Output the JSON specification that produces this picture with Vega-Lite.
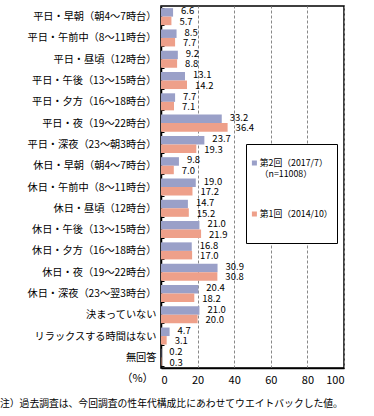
{
  "$schema": "https://vega.github.io/schema/vega-lite/v6.json",
  "autosize": "none",
  "width": 183,
  "height": 362,
  "padding": {"left": 161, "top": 6, "right": 30, "bottom": 48},
  "background": "white",
  "config": {
    "font": "Noto Sans CJK JP",
    "view": {"stroke": "black", "strokeWidth": 1.5},
    "axis": {"labelFont": "Noto Sans CJK JP", "titleFont": "Noto Sans CJK JP", "labelColor": "black", "titleColor": "black"}
  },
  "title": {
    "text": "注）過去調査は、今回調査の性年代構成比にあわせてウエイトバックした値。",
    "orient": "bottom",
    "anchor": "start",
    "align": "left",
    "frame": "group",
    "offset": 14,
    "dx": -161,
    "fontSize": 9.8,
    "fontWeight": "normal",
    "color": "black",
    "font": "Noto Sans CJK JP"
  },
  "data": {
    "values": [
      {"cat": "平日・早朝（朝4～7時台）", "series": "第2回（2017/7）", "value": 6.6},
      {"cat": "平日・早朝（朝4～7時台）", "series": "第1回（2014/10）", "value": 5.7},
      {"cat": "平日・午前中（8～11時台）", "series": "第2回（2017/7）", "value": 8.5},
      {"cat": "平日・午前中（8～11時台）", "series": "第1回（2014/10）", "value": 7.7},
      {"cat": "平日・昼頃（12時台）", "series": "第2回（2017/7）", "value": 9.2},
      {"cat": "平日・昼頃（12時台）", "series": "第1回（2014/10）", "value": 8.8},
      {"cat": "平日・午後（13～15時台）", "series": "第2回（2017/7）", "value": 13.1},
      {"cat": "平日・午後（13～15時台）", "series": "第1回（2014/10）", "value": 14.2},
      {"cat": "平日・夕方（16～18時台）", "series": "第2回（2017/7）", "value": 7.7},
      {"cat": "平日・夕方（16～18時台）", "series": "第1回（2014/10）", "value": 7.1},
      {"cat": "平日・夜（19～22時台）", "series": "第2回（2017/7）", "value": 33.2},
      {"cat": "平日・夜（19～22時台）", "series": "第1回（2014/10）", "value": 36.4},
      {"cat": "平日・深夜（23～朝3時台）", "series": "第2回（2017/7）", "value": 23.7},
      {"cat": "平日・深夜（23～朝3時台）", "series": "第1回（2014/10）", "value": 19.3},
      {"cat": "休日・早朝（朝4～7時台）", "series": "第2回（2017/7）", "value": 9.8},
      {"cat": "休日・早朝（朝4～7時台）", "series": "第1回（2014/10）", "value": 7.0},
      {"cat": "休日・午前中（8～11時台）", "series": "第2回（2017/7）", "value": 19.0},
      {"cat": "休日・午前中（8～11時台）", "series": "第1回（2014/10）", "value": 17.2},
      {"cat": "休日・昼頃（12時台）", "series": "第2回（2017/7）", "value": 14.7},
      {"cat": "休日・昼頃（12時台）", "series": "第1回（2014/10）", "value": 15.2},
      {"cat": "休日・午後（13～15時台）", "series": "第2回（2017/7）", "value": 21.0},
      {"cat": "休日・午後（13～15時台）", "series": "第1回（2014/10）", "value": 21.9},
      {"cat": "休日・夕方（16～18時台）", "series": "第2回（2017/7）", "value": 16.8},
      {"cat": "休日・夕方（16～18時台）", "series": "第1回（2014/10）", "value": 17.0},
      {"cat": "休日・夜（19～22時台）", "series": "第2回（2017/7）", "value": 30.9},
      {"cat": "休日・夜（19～22時台）", "series": "第1回（2014/10）", "value": 30.8},
      {"cat": "休日・深夜（23～翌3時台）", "series": "第2回（2017/7）", "value": 20.4},
      {"cat": "休日・深夜（23～翌3時台）", "series": "第1回（2014/10）", "value": 18.2},
      {"cat": "決まっていない", "series": "第2回（2017/7）", "value": 21.0},
      {"cat": "決まっていない", "series": "第1回（2014/10）", "value": 20.0},
      {"cat": "リラックスする時間はない", "series": "第2回（2017/7）", "value": 4.7},
      {"cat": "リラックスする時間はない", "series": "第1回（2014/10）", "value": 3.1},
      {"cat": "無回答", "series": "第2回（2017/7）", "value": 0.2},
      {"cat": "無回答", "series": "第1回（2014/10）", "value": 0.3}
    ]
  },
  "encoding": {
    "y": {
      "field": "cat",
      "type": "nominal",
      "sort": null,
      "scale": {"paddingInner": 0.2, "paddingOuter": 0.1},
      "axis": {
        "title": null,
        "labelFontSize": 10.2,
        "labelPadding": 8,
        "tickBand": "extent",
        "tickSize": -3,
        "tickColor": "black",
        "domainColor": "black",
        "domainWidth": 1.5,
        "labelLimit": 200
      }
    },
    "yOffset": {
      "field": "series",
      "type": "nominal",
      "sort": ["第2回（2017/7）", "第1回（2014/10）"]
    },
    "x": {
      "field": "value",
      "type": "quantitative",
      "scale": {"domain": [0, 100]},
      "axis": {
        "values": [0, 20, 40, 60, 80, 100],
        "grid": true,
        "gridDash": [3, 2],
        "gridColor": "#888888",
        "ticks": false,
        "labelFontSize": 11,
        "labelPadding": 6,
        "domainColor": "black",
        "domainWidth": 1.5,
        "title": "（%）",
        "titleFontSize": 11,
        "titleFontWeight": "normal",
        "titleX": -24,
        "titleY": 10,
        "titleAlign": "center",
        "titleBaseline": "middle"
      }
    }
  },
  "layer": [
    {
      "mark": {"type": "bar"},
      "encoding": {
        "color": {
          "field": "series",
          "type": "nominal",
          "sort": ["第2回（2017/7）", "第1回（2014/10）"],
          "scale": {"domain": ["第2回（2017/7）", "第1回（2014/10）"], "range": ["#9aa0c8", "#eea08a"]},
          "legend": {
            "title": ".",
            "titleColor": "white",
            "titleOrient": "bottom",
            "titleFontSize": 8,
            "titlePadding": 2,
            "orient": "none",
            "legendX": 85,
            "legendY": 138,
            "direction": "vertical",
            "fillColor": "white",
            "strokeColor": "black",
            "padding": 4,
            "clipHeight": 30,
            "rowPadding": 20,
            "symbolType": "square",
            "symbolSize": 25,
            "symbolOpacity": 1,
            "symbolStrokeWidth": 0,
            "labelFontSize": 8.8,
            "labelFont": "Noto Sans CJK JP",
            "labelOffset": 1,
            "labelLimit": 200,
            "labelExpr": "datum.label == '第2回（2017/7）' ? ['第2回（2017/7）', '（n=11008）'] : datum.label"
          }
        }
      }
    },
    {
      "transform": [{"filter": "datum.series == '第2回（2017/7）'"}],
      "mark": {"type": "text", "align": "left", "dx": 8, "dy": -1, "fontSize": 9.5, "color": "black", "baseline": "middle"},
      "encoding": {
        "text": {"field": "value", "type": "quantitative", "format": ".1f"}
      }
    },
    {
      "transform": [{"filter": "datum.series == '第1回（2014/10）'"}],
      "mark": {"type": "text", "align": "left", "dx": 8, "dy": 1, "fontSize": 9.5, "color": "black", "baseline": "middle"},
      "encoding": {
        "text": {"field": "value", "type": "quantitative", "format": ".1f"}
      }
    }
  ]
}
